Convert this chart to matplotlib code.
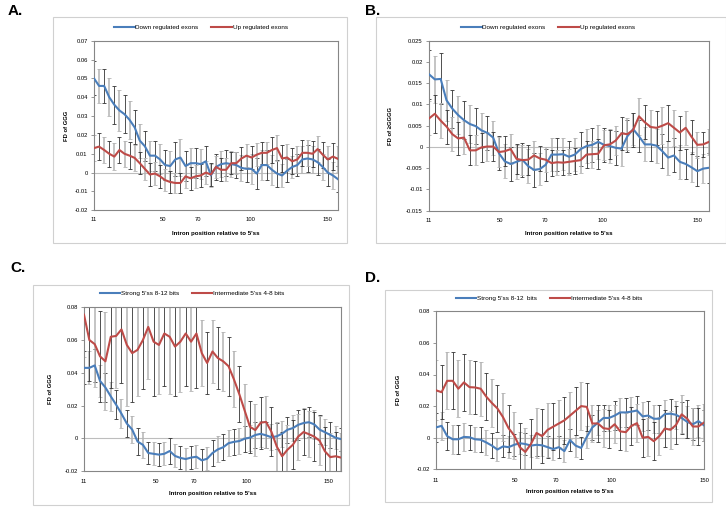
import numpy as np
import matplotlib
matplotlib.use('Agg')
import matplotlib.pyplot as plt
from matplotlib.patches import Rectangle

plt.rcParams['font.family'] = ['Liberation Sans', 'DejaVu Sans']

tick_text = ['11', '50', '70', '100', '150']

# ---- panel A : FD of GGG, down / up regulated exons
a_down = [0.050, 0.046, 0.046, 0.040, 0.036, 0.033, 0.031, 0.028, 0.024, 0.017,
          0.014, 0.009, 0.009, 0.007, 0.004, 0.0035, 0.007, 0.008, 0.0035, 0.005,
          0.005, 0.0045, 0.006, -0.0015, 0.003, 0.0045, 0.005, 0.0045, 0.004, 0.0025,
          0.002, 0.002, -0.0005, 0.004, 0.004, 0.0015, -0.0005, -0.0015, 0.001, 0.003,
          0.004, 0.007, 0.0075, 0.007, 0.0055, 0.003, 0.000, -0.0015, -0.0035]
a_down_err = [0.009, 0.009, 0.009, 0.010, 0.010, 0.011, 0.010, 0.010, 0.009, 0.009,
              0.008, 0.008, 0.008, 0.008, 0.008, 0.008, 0.009, 0.010, 0.008, 0.008,
              0.008, 0.008, 0.008, 0.006, 0.007, 0.007, 0.007, 0.007, 0.007, 0.007,
              0.007, 0.008, 0.008, 0.008, 0.008, 0.008, 0.007, 0.006, 0.006, 0.006,
              0.006, 0.007, 0.007, 0.007, 0.007, 0.007, 0.007, 0.007, 0.007]
a_up = [0.013, 0.0138, 0.012, 0.010, 0.0085, 0.012, 0.010, 0.009, 0.0078, 0.005,
        0.002, -0.001, -0.0005, -0.002, -0.004, -0.005, -0.0055, -0.0055, -0.002, -0.003,
        -0.002, -0.0015, 0.000, -0.001, 0.003, 0.0015, 0.0015, 0.005, 0.005, 0.0075,
        0.009, 0.008, 0.0095, 0.0105, 0.0105, 0.012, 0.013, 0.0075, 0.008, 0.006,
        0.007, 0.0105, 0.0105, 0.010, 0.0125, 0.0095, 0.007, 0.0085, 0.0073]
a_up_err = [0.007, 0.007, 0.007, 0.007, 0.007, 0.007, 0.007, 0.007, 0.007, 0.006,
            0.006, 0.006, 0.006, 0.006, 0.006, 0.006, 0.0055, 0.0055, 0.006, 0.006,
            0.006, 0.006, 0.006, 0.006, 0.006, 0.006, 0.006, 0.006, 0.006, 0.006,
            0.006, 0.006, 0.006, 0.006, 0.006, 0.007, 0.007, 0.007, 0.007, 0.007,
            0.007, 0.007, 0.007, 0.007, 0.007, 0.007, 0.007, 0.007, 0.007]

# ---- panel B : FD of >=GGGG
b_down = [0.0171, 0.0159, 0.0160, 0.0110, 0.0090, 0.0075, 0.0063, 0.0054, 0.0049, 0.0039,
          0.0033, 0.0022, -0.0015, -0.0034, -0.0040, -0.0035, -0.0030, -0.0045, -0.0054, -0.0052,
          -0.0042, -0.0018, -0.0018, -0.0017, -0.0023, -0.0018, -0.0005, 0.0002, 0.0005, 0.0012,
          0.0005, 0.0002, -0.0002, -0.0004, 0.0025, 0.0042, 0.0025, 0.0006, 0.0006, 0.0003,
          -0.0010, -0.0025, -0.0020, -0.0035, -0.0040, -0.0048, -0.0057, -0.0051, -0.0049]
b_down_err = [0.0057, 0.0055, 0.0060, 0.0048, 0.0045, 0.0045, 0.0045, 0.0045, 0.0043, 0.0042,
              0.0040, 0.0040, 0.0040, 0.0040, 0.0040, 0.0040, 0.0040, 0.0040, 0.0040, 0.0038,
              0.0038, 0.0038, 0.0038, 0.0038, 0.0038, 0.0038, 0.0040, 0.0040, 0.0040, 0.0040,
              0.0040, 0.0040, 0.0040, 0.0040, 0.0038, 0.0038, 0.0038, 0.0040, 0.0040, 0.0040,
              0.0040, 0.0040, 0.0040, 0.0040, 0.0035, 0.0035, 0.0035, 0.0035, 0.0035]
b_up = [0.0067, 0.0078, 0.0062, 0.0048, 0.0030, 0.0020, 0.0022, -0.0008, -0.0008, -0.0001,
        0.0001, 0.0001, -0.0012, -0.0010, -0.0005, -0.0028, -0.0031, -0.0030, -0.0020, -0.0027,
        -0.0030, -0.0038, -0.0036, -0.0037, -0.0035, -0.0033, -0.0031, -0.0018, -0.0017, -0.0016,
        0.0004, 0.0006, 0.0015, 0.0032, 0.0030, 0.0040, 0.0072, 0.0058, 0.0047, 0.0045,
        0.0050, 0.0056, 0.0045, 0.0034, 0.0045, 0.0024, 0.0005, 0.0006, 0.0012]
b_up_err = [0.0040, 0.0044, 0.0042, 0.0040, 0.0040, 0.0038, 0.0038, 0.0035, 0.0035, 0.0035,
            0.0035, 0.0035, 0.0035, 0.0035, 0.0035, 0.0035, 0.0035, 0.0035, 0.0035, 0.0030,
            0.0030, 0.0030, 0.0030, 0.0030, 0.0030, 0.0030, 0.0030, 0.0032, 0.0032, 0.0035,
            0.0035, 0.0035, 0.0035, 0.0038, 0.0038, 0.0040, 0.0043, 0.0040, 0.0040, 0.0040,
            0.0043, 0.0043, 0.0043, 0.0040, 0.0040, 0.0040, 0.0030, 0.0030, 0.0030]

# ---- panel C : FD of GGG, strong / intermediate 5'ss
c_strong = [0.043, 0.043, 0.0445, 0.035, 0.031, 0.0256, 0.0205, 0.0150, 0.0090, 0.0053,
            -0.002, -0.004, -0.009, -0.0095, -0.0100, -0.0095, -0.0078, -0.0108, -0.0120, -0.0127,
            -0.0118, -0.0113, -0.0135, -0.0125, -0.0090, -0.0068, -0.0055, -0.0030, -0.0022, -0.0017,
            -0.0003, 0.0004, 0.0020, 0.0027, 0.0018, 0.0006, 0.0012, 0.0028, 0.0052, 0.0062,
            0.0082, 0.0093, 0.0098, 0.0085, 0.0053, 0.0037, 0.0020, 0.0003, -0.0005]
c_strong_err = [0.010, 0.010, 0.010, 0.010, 0.009, 0.009, 0.009, 0.009, 0.008, 0.008,
                0.008, 0.008, 0.007, 0.007, 0.007, 0.007, 0.008, 0.007, 0.007, 0.007,
                0.007, 0.007, 0.007, 0.007, 0.008, 0.008, 0.008, 0.008, 0.008, 0.008,
                0.008, 0.008, 0.008, 0.008, 0.008, 0.008, 0.008, 0.008, 0.008, 0.008,
                0.009, 0.009, 0.009, 0.009, 0.009, 0.008, 0.008, 0.007, 0.007]
c_inter = [0.0755, 0.060, 0.0575, 0.050, 0.047, 0.062, 0.0625, 0.0665, 0.057, 0.052,
           0.054, 0.060, 0.068, 0.059, 0.057, 0.064, 0.062, 0.056, 0.059, 0.064,
           0.059, 0.064, 0.052, 0.046, 0.053, 0.049, 0.047, 0.044, 0.036, 0.027,
           0.017, 0.007, 0.005, 0.0095, 0.010, 0.004, -0.005, -0.011, -0.007, -0.004,
           0.001, 0.0038, 0.0025, 0.001, -0.0015, -0.008, -0.0115, -0.011, -0.0118]
c_inter_err = [0.026, 0.025, 0.026, 0.028, 0.030, 0.031, 0.032, 0.033, 0.037, 0.030,
               0.028, 0.030, 0.032, 0.033, 0.030, 0.032, 0.035, 0.030, 0.031, 0.032,
               0.030, 0.033, 0.020, 0.019, 0.019, 0.019, 0.018, 0.018, 0.017, 0.017,
               0.016, 0.016, 0.016, 0.016, 0.016, 0.015, 0.015, 0.015, 0.015, 0.015,
               0.014, 0.014, 0.014, 0.015, 0.015, 0.015, 0.015, 0.015, 0.015]

# ---- panel D : FD of GGG, strong / intermediate 5'ss
d_strong = [0.0065, 0.0075, 0.001, -0.001, -0.001, 0.0005, 0.0003, -0.001, -0.0013, -0.003,
            -0.005, -0.0075, -0.0055, -0.006, -0.0045, -0.0035, -0.004, -0.005, -0.0045, -0.0048,
            -0.006, -0.0072, -0.006, -0.0085, -0.0015, -0.005, -0.0065, 0.0005, 0.0065, 0.0095,
            0.0125, 0.0125, 0.014, 0.016, 0.016, 0.0165, 0.0172, 0.0135, 0.014, 0.012,
            0.012, 0.015, 0.0152, 0.0145, 0.0125, 0.010, 0.0085, 0.0105, 0.0078]
d_strong_err = [0.009, 0.009, 0.009, 0.009, 0.009, 0.009, 0.008, 0.008, 0.008, 0.008,
                0.008, 0.007, 0.007, 0.007, 0.007, 0.007, 0.007, 0.007, 0.007, 0.007,
                0.007, 0.007, 0.007, 0.007, 0.007, 0.007, 0.007, 0.007, 0.008, 0.008,
                0.008, 0.008, 0.009, 0.009, 0.009, 0.009, 0.009, 0.009, 0.009, 0.009,
                0.009, 0.009, 0.009, 0.009, 0.010, 0.010, 0.010, 0.010, 0.010]
d_inter = [0.030, 0.0288, 0.036, 0.036, 0.031, 0.035, 0.032, 0.0318, 0.031, 0.026,
           0.022, 0.0185, 0.013, 0.006, 0.0015, -0.006, -0.009, -0.004, 0.003, 0.001,
           0.005, 0.007, 0.009, 0.011, 0.014, 0.017, 0.020, 0.0195, 0.009, 0.009,
           0.006, 0.0055, 0.0085, 0.004, 0.0035, 0.0075, 0.0092, 0.000, 0.0005, -0.0022,
           0.001, 0.0058, 0.005, 0.0081, 0.0148, 0.0120, 0.0071, 0.0071, 0.0096]
d_inter_err = [0.019, 0.017, 0.018, 0.018, 0.018, 0.018, 0.017, 0.017, 0.017, 0.015,
               0.015, 0.015, 0.015, 0.015, 0.015, 0.015, 0.015, 0.016, 0.016, 0.017,
               0.017, 0.015, 0.015, 0.015, 0.015, 0.015, 0.015, 0.015, 0.012, 0.012,
               0.012, 0.012, 0.012, 0.012, 0.012, 0.012, 0.012, 0.012, 0.012, 0.012,
               0.012, 0.012, 0.012, 0.012, 0.012, 0.012, 0.012, 0.012, 0.012]

BLUE = '#4A7EBB'
RED = '#BE4B48'
W, H = 726.0, 509.0

fig = plt.figure(figsize=(7.26, 5.09), dpi=100)


def fx(px):
    return px / W


def fy(py):
    return 1 - py / H


def bars(ax, x, vals, err, start):
    # the scanned figure shows the thin error bars alternately dark and greyed out
    x = np.asarray(x)
    vals = np.asarray(vals)
    err = np.asarray(err)
    dark = (x % 2) == start
    ax.errorbar(x[dark], vals[dark], yerr=err[dark], fmt='none', ecolor='#333333',
                elinewidth=0.6, capsize=1.2, capthick=0.6, zorder=2)
    ax.errorbar(x[~dark], vals[~dark], yerr=err[~dark], fmt='none', ecolor='#b4b4b4',
                elinewidth=1.1, capsize=1.2, capthick=0.6, zorder=2)


def panel(letter, box, plot, series, labels, ylim, yticks, ylabels, ylab,
          tick_pos, letter_xy, legend_xy, ylab_x, xlab_y, ticklab_pad):
    # chart area frame
    fig.patches.append(Rectangle((fx(box[0]), fy(box[3])), fx(box[2] - box[0]),
                                 (box[3] - box[1]) / H, transform=fig.transFigure,
                                 fill=False, edgecolor='#d0d0d0', lw=0.8))
    fig.text(fx(letter_xy[0]), fy(letter_xy[1]), letter, fontsize=11,
             fontweight='bold', ha='left', va='center')
    ax = fig.add_axes([fx(plot[0]), fy(plot[3]), fx(plot[2] - plot[0]),
                       (plot[3] - plot[1]) / H])
    n = len(series[0][0])
    x = np.arange(n)
    ax.axhline(0, color='#bdbdbd', lw=0.8, zorder=1)
    handles = []
    for k, ((vals, err), col, lab) in enumerate(zip(series, [BLUE, RED], labels)):
        bars(ax, x, vals, err, k)
        h, = ax.plot(x, vals, color=col, lw=1.5, zorder=3, label=lab)
        handles.append(h)
    ax.set_xlim(0, n - 1)
    ax.set_ylim(*ylim)
    ax.set_yticks(yticks)
    ax.set_yticklabels(ylabels)
    ax.set_xticks(tick_pos)
    ax.set_xticklabels(tick_text)
    ax.tick_params(axis='y', length=2, width=0.6, color='#868686',
                   labelsize=4.2, pad=2.5)
    ax.tick_params(axis='x', length=0, labelsize=4.2, pad=ticklab_pad)
    for s in ax.spines.values():
        s.set_color('#868686')
        s.set_linewidth(0.8)
    fig.text(fx(ylab_x), (fy(plot[1]) + fy(plot[3])) / 2, ylab, rotation=90,
             fontsize=4.2, fontweight='bold', ha='center', va='center')
    fig.text((fx(plot[0]) + fx(plot[2])) / 2, fy(xlab_y),
             "Intron position relative to 5'ss", fontsize=4.4,
             fontweight='bold', ha='center', va='center')
    fig.legend(handles=handles, loc='center', ncol=2, frameon=False,
               bbox_to_anchor=(fx(legend_xy[0]), fy(legend_xy[1])),
               bbox_transform=fig.transFigure, fontsize=4.6,
               handlelength=3.2, handletextpad=0.1, columnspacing=2.0)
    return ax


yt_a = [-0.02, -0.01, 0, 0.01, 0.02, 0.03, 0.04, 0.05, 0.06, 0.07]
yl_a = ['-0.02', '-0.01', '0', '0.01', '0.02', '0.03', '0.04', '0.05', '0.06', '0.07']
yt_b = [-0.015, -0.01, -0.005, 0, 0.005, 0.01, 0.015, 0.02, 0.025]
yl_b = ['-0.015', '-0.01', '-0.005', '0', '0.005', '0.01', '0.015', '0.02', '0.025']
yt_c = [-0.02, 0, 0.02, 0.04, 0.06, 0.08]
yl_c = ['-0.02', '0', '0.02', '0.04', '0.06', '0.08']

panel('A.', (53, 17, 347, 243), (94, 40.7, 338, 210.3),
      [(a_down, a_down_err), (a_up, a_up_err)],
      ['Down regulated exons', 'Up regulated exons'],
      (-0.02, 0.07), yt_a, yl_a, 'FD of GGG',
      [0, 13.6, 20.5, 30.7, 46.0], (8, 11), (201, 27), 67, 233, 5)

panel('B.', (376, 17, 726, 243), (429, 40.7, 709, 210.7),
      [(b_down, b_down_err), (b_up, b_up_err)],
      ['Down regulated exons', 'Up regulated exons'],
      (-0.015, 0.025), yt_b, yl_b, 'FD of \u2265GGGG',
      [0, 12.1, 19.9, 29.7, 46.0], (365, 11), (548, 27), 391, 233, 5)

panel('C.', (33, 285, 349, 505), (84, 307.3, 341, 471),
      [(c_strong, c_strong_err), (c_inter, c_inter_err)],
      ["Strong 5'ss 8-12 bits", "Intermediate 5'ss 4-8 bits"],
      (-0.02, 0.08), yt_c, yl_c, 'FD of GGG',
      [0, 13.4, 20.5, 30.4, 45.6], (10, 268), (192, 293), 50, 493, 6)

panel('D.', (385, 290, 712, 502), (436, 311.3, 704, 469.3),
      [(d_strong, d_strong_err), (d_inter, d_inter_err)],
      ["Strong 5'ss 8-12  bits", "Intermediate 5'ss 4-8 bits"],
      (-0.02, 0.08), yt_c, yl_c, 'FD of GGG',
      [0, 14.2, 21.5, 31.5, 48.0], (365, 278), (549, 298), 398, 491, 6)

fig.savefig('out.png', dpi=100)
